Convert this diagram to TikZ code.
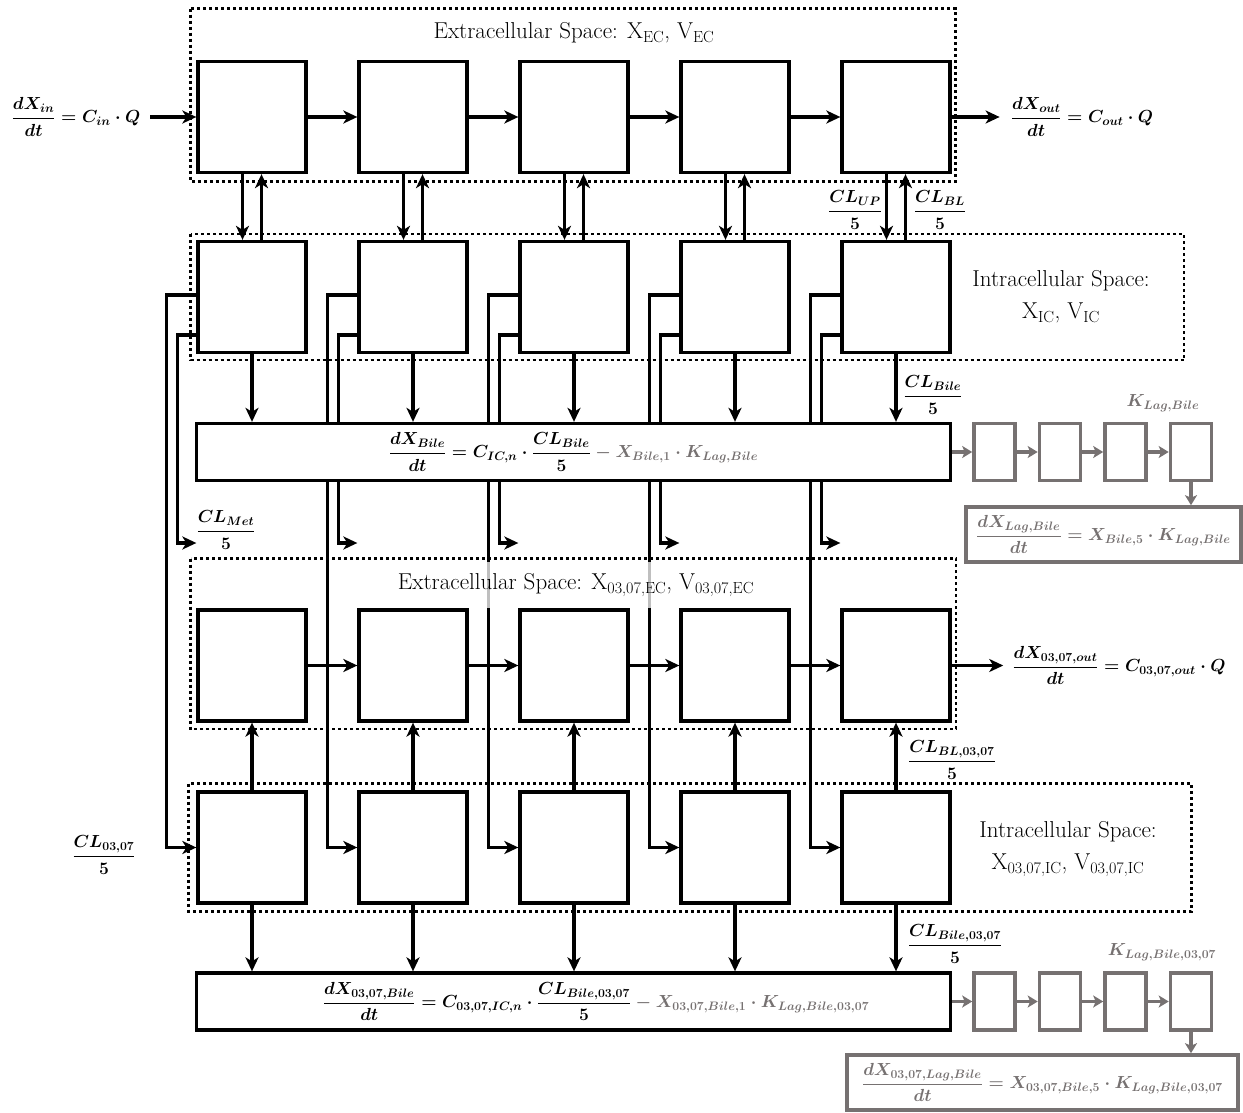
\RequirePackage{fix-cm}
\documentclass[tikz,border=0pt]{standalone}
\usepackage{amsmath}
\usetikzlibrary{arrows.meta,positioning,calc}
\definecolor{laggris}{RGB}{118,113,113}
\newcommand{\grandtxt}{\fontsize{23}{32}\selectfont}
\newcommand{\eqtxt}{\fontsize{17.5}{21}\selectfont\boldmath}

\begin{document}
\begin{tikzpicture}[x=1pt, y=-1pt,
  cmp/.style={rectangle, draw, line width=3.3pt, minimum width=108pt, minimum height=111pt, inner sep=0pt},
  bil/.style={rectangle, draw, fill=white, line width=3.3pt, minimum width=754pt, minimum height=57pt, inner sep=0pt, font=\eqtxt},
  lag/.style={rectangle, draw=laggris, line width=3.6pt, minimum width=41pt, minimum height=57pt, inner sep=0pt},
  lageq/.style={rectangle, draw=laggris, line width=3.6pt, minimum height=55pt, inner sep=0pt, text=laggris, font=\eqtxt},
  esp/.style={line width=2.7pt, dash pattern=on 3pt off 3pt},
  tr/.style={-{Stealth[length=14pt, width=13pt, inset=4pt]}, line width=3.3pt},
  trg/.style={-{Stealth[length=10pt, width=12pt, inset=2.5pt]}, line width=3.7pt, laggris},
  eq/.style={font=\eqtxt, inner sep=2pt},
  ttl/.style={font=\grandtxt, align=center}
]
  \useasboundingbox (0,0) rectangle (1243,1113);

  \draw[esp] (190.5,8.7) rectangle (955.5,181.3);
  \draw[esp] (190.5,234) rectangle (1184,360);
  \draw[esp] (190.5,558.5) rectangle (956,729);
  \draw[esp] (188.7,783.7) rectangle (1191.7,911.3);

  \foreach \i/\x in {1/252,2/413,3/574,4/735,5/896} {
    \node[cmp] (ec\i)  at (\x,117)   {};
    \node[cmp] (ic\i)  at (\x,297)   {};
    \node[cmp] (mec\i) at (\x,665.5) {};
    \node[cmp] (mic\i) at (\x,847.5) {};
  }

  % metabolism
  \coordinate (metY) at (0,543);
  \foreach \i in {1,...,5} {
    \coordinate (met\i) at (ic\i.west |- metY);
    \draw[tr] ([yshift=2pt]ic\i.west) -- ++(-30pt,0) |- (mic\i.west);
    \draw[tr] ([yshift=-38pt]ic\i.west) -- ++(-19pt,0) |- (met\i);
  }

  \node[bil] (bile) at (573.5,452)
    {$\dfrac{dX_{Bile}}{dt} = C_{IC,n}\cdot\dfrac{CL_{Bile}}{5}\textcolor{laggris}{{}-X_{Bile,1}\cdot K_{Lag,Bile}}$};
  \node[bil] (bileM) at (573.5,1001.5) {};
  \node[eq] (bileMEq) at (596,1001.5)
    {$\dfrac{dX_{03,07,Bile}}{dt} = C_{03,07,IC,n}\cdot\dfrac{CL_{Bile,03,07}}{5}\textcolor{laggris}{{}-X_{03,07,Bile,1}\cdot K_{Lag,Bile,03,07}}$};

  \node[ttl] (ecTitle) at (574,33) {Extracellular Space: X\textsubscript{EC}, V\textsubscript{EC}};
  \node[ttl] (icTitle) at (1061,297) {Intracellular Space:\\X\textsubscript{IC}, V\textsubscript{IC}};
  \node[ttl, fill=white, fill opacity=0.75, text opacity=1, minimum height=46pt] (mecTitle) at (576,585)
    {Extracellular Space: X\textsubscript{03,07,EC}, V\textsubscript{03,07,EC}};
  \node[ttl] (micTitle) at (1068,849) {Intracellular Space:\\X\textsubscript{03,07,IC}, V\textsubscript{03,07,IC}};

  \node[eq] (inEq)     at (76,117)    {$\dfrac{dX_{in}}{dt} = C_{in}\cdot Q$};
  \node[eq] (outEq)    at (1082,117)  {$\dfrac{dX_{out}}{dt} = C_{out}\cdot Q$};
  \node[eq] (mecOutEq) at (1119,665.5){$\dfrac{dX_{03,07,out}}{dt} = C_{03,07,out}\cdot Q$};

  \draw[tr, shorten <=8pt] (inEq) -- (ec1);
  \draw[tr, shorten >=9pt] (ec5) -- (outEq);
  \draw[tr, shorten >=7pt] (mec5) -- (mecOutEq);
  \foreach \i [count=\n from 2] in {1,...,4} {
    \draw[tr] (ec\i) -- (ec\n);
    \draw[tr] (mec\i) -- (mec\n);
  }
  \foreach \i in {1,...,5} {
    \draw[tr] ([xshift=-9.5pt]ec\i.south) -- ([xshift=-9.5pt]ic\i.north);
    \draw[tr] ([xshift=9.5pt]ic\i.north) -- ([xshift=9.5pt]ec\i.south);
    \draw[tr] (ic\i.south) -- (ic\i.south |- bile.north);
    \draw[tr] (mic\i.north) -- (mec\i.south);
    \draw[tr] (mic\i.south) -- (mic\i.south |- bileM.north);
  }

  \node[eq] (clUp)    at (855,210) {$\dfrac{CL_{UP}}{5}$};
  \node[eq] (clBl)    at (940,210) {$\dfrac{CL_{BL}}{5}$};
  \node[eq] (clBile)  at (933,395) {$\dfrac{CL_{Bile}}{5}$};
  \node[eq] (clMet)   at (226,530) {$\dfrac{CL_{Met}}{5}$};
  \node[eq] (clMic)   at (104,855) {$\dfrac{CL_{03,07}}{5}$};
  \node[eq] (clBlM)   at (952,760) {$\dfrac{CL_{BL,03,07}}{5}$};
  \node[eq] (clBileM) at (955,944) {$\dfrac{CL_{Bile,03,07}}{5}$};

  % lag compartments
  \foreach \j/\x in {1/994.5,2/1060,3/1125.5,4/1191} {
    \node[lag] (lagB\j) at (\x,452)    {};
    \node[lag] (lagM\j) at (\x,1001.5) {};
  }
  \node[eq, text=laggris] (kLagB) at (1163,403) {$K_{Lag,Bile}$};
  \node[eq, text=laggris] (kLagM) at (1162,952) {$K_{Lag,Bile,03,07}$};
  \node[lageq, minimum width=275pt] (lagEqB) at (1103.5,534.5)
    {$\dfrac{dX_{Lag,Bile}}{dt} = X_{Bile,5}\cdot K_{Lag,Bile}$};
  \node[lageq, minimum width=391pt] (lagEqM) at (1042.5,1082.5)
    {$\dfrac{dX_{03,07,Lag,Bile}}{dt} = X_{03,07,Bile,5}\cdot K_{Lag,Bile,03,07}$};

  \draw[trg] (bile) -- (lagB1);
  \draw[trg] (bileM) -- (lagM1);
  \foreach \j [count=\n from 2] in {1,2,3} {
    \draw[trg] (lagB\j) -- (lagB\n);
    \draw[trg] (lagM\j) -- (lagM\n);
  }
  \draw[trg] (lagB4.south) -- (lagB4.south |- lagEqB.north);
  \draw[trg] (lagM4.south) -- (lagM4.south |- lagEqM.north);
\end{tikzpicture}
\end{document}
